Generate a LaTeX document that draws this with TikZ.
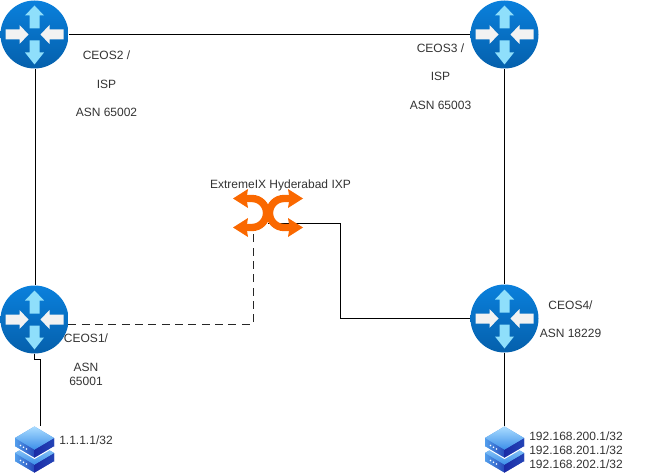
\documentclass[tikz,border=0pt]{standalone}
\usepackage{fontspec}
\setmainfont{Liberation Sans}
\usetikzlibrary{backgrounds}
\definecolor{rtrtop}{HTML}{0A80DC}
\definecolor{rtrbot}{HTML}{0560AC}
\definecolor{rtrsky}{HTML}{8FDFFB}
\definecolor{rtrpale}{HTML}{F2F2F2}
\definecolor{ixporange}{HTML}{FA6800}
\definecolor{lbl}{HTML}{333333}
\definecolor{srvlight}{HTML}{A9DCFF}
\definecolor{srvmid}{HTML}{3D8FE8}
\definecolor{srvleft}{HTML}{2A7FE0}
\definecolor{srvnavy}{HTML}{1B2BA6}
\tikzset{
  % nodes
  rtr/.style={circle,draw=none,top color=rtrtop,bottom color=rtrbot,inner sep=0pt,
              minimum size=51pt},
  ixp/.style={rectangle,inner sep=0pt,minimum width=52.5pt,minimum height=34.5pt},
  srv/.style={rectangle,inner sep=0pt,minimum width=29.25pt,minimum height=35.25pt},
  lb/.style={inner sep=0pt,align=center,text=lbl,font=\fontsize{9}{10.7}\selectfont},
  % lines
  lnk/.style={draw=black,line width=0.75pt},
  lnkd/.style={draw=black!85,line width=0.75pt,dash pattern=on 6pt off 4pt},
  rtrarrows/.pic={
    \fill[rtrsky] (0,-29) -- (9.5,-19) -- (5,-19) -- (5,-6) -- (-5,-6) -- (-5,-19) -- (-9.5,-19) -- cycle;
    \fill[rtrsky] (0,30) -- (9.5,18) -- (5,18) -- (5,6) -- (-5,6) -- (-5,18) -- (-9.5,18) -- cycle;
    \fill[rtrpale] (-6,0) -- (-15,-9.5) -- (-15,-5) -- (-29,-5) -- (-29,5) -- (-15,5) -- (-15,9.5) -- cycle;
    \fill[rtrpale] (6,0) -- (15,-9.5) -- (15,-5) -- (29,-5) -- (29,5) -- (15,5) -- (15,9.5) -- cycle;
  },
  ixparrows/.pic={
    \draw[ixporange,line width=5.5pt] (-22,-14.5) -- (-16,-14.5) arc (-90:90:14.5) -- (-22,14.5);
    \draw[ixporange,line width=5.5pt] (22,-14.5) -- (16,-14.5) arc (270:90:14.5) -- (22,14.5);
    \fill[ixporange] (-35,-14.5) -- (-20,-24) -- (-21.5,-14.5) -- (-20,-5) -- cycle;
    \fill[ixporange] (35,-14.5) -- (20,-24) -- (21.5,-14.5) -- (20,-5) -- cycle;
    \fill[ixporange] (-35,14.5) -- (-20,5) -- (-21.5,14.5) -- (-20,24) -- cycle;
    \fill[ixporange] (35,14.5) -- (20,5) -- (21.5,14.5) -- (20,24) -- cycle;
  },
  srvslab/.pic={
    \fill[srvleft,left color=srvmid!80!srvlight,right color=srvnavy!70!srvmid] (-19.5,0) -- (0,11.5) -- (0,20) -- (-19.5,8.5) -- cycle;
    \fill[srvnavy,left color=srvnavy,right color=srvnavy!75!srvmid] (19.5,0) -- (0,11.5) -- (0,20) -- (19.5,8.5) -- cycle;
    \fill[srvmid,top color=srvlight,bottom color=srvmid] (0,-11.5) -- (19.5,0) -- (0,11.5) -- (-19.5,0) -- cycle;
    \fill[white] (-14,7.5) circle (0.9) (-11,9.25) circle (0.9) (-8,11) circle (0.9);
    \draw[white,line width=0.75pt] (-19.5,9) -- (0,20.5) -- (19.5,9);
  },
  srvpair/.pic={
    \pic at (0,3.5) {srvslab};
    \pic at (0,-11.5) {srvslab};
  },
}

\begin{document}
\begin{tikzpicture}[x=0.75pt,y=-0.75pt]
  \useasboundingbox (0,0) rectangle (660,474);
  \node[rtr] (ceostwo) at (34.5,34.5) {};
  \node[rtr] (ceosthree) at (504.5,34.5) {};
  \node[rtr] (ceosone) at (34.5,319.5) {};
  \node[rtr] (ceosfour) at (504.5,318.5) {};
  \node[lb] (lbtwo) at (106.5,84) {CEOS2 /\\[10.7pt]ISP\\[10.7pt]ASN 65002};
  \node[lb] (lbthree) at (440.5,76.5) {CEOS3 /\\[10.7pt]ISP\\[10.7pt]ASN 65003};
  \node[lb] (lbone) at (86,360) {CEOS1/\\[10.7pt]ASN\\65001};
  \node[lb] (lbfour) at (570.5,319) {CEOS4/\\[10.7pt]ASN 18229};
  \node[lb] (lbixp) at (280.5,185) {ExtremeIX Hyderabad IXP};
  \node[lb] (lbsrvone) at (86,440) {1.1.1.1/32};
  \node[lb] (lbsrvfour) at (576,450) {192.168.200.1/32\\192.168.201.1/32\\192.168.202.1/32};
  \node[ixp] (ixpsw) at (268,213) {};
  \node[srv] (srvone) at (34.5,449.5) {};
  \node[srv] (srvfour) at (504.5,449.5) {};
  \coordinate (ixpdown) at (253,228);
  \coordinate (ixpright) at (268,223.5);
  \foreach \rtrname in {ceostwo,ceosthree,ceosone,ceosfour}
    \pic at (\rtrname) {rtrarrows};
  \pic at (ixpsw) {ixparrows};
  \pic at (srvone) {srvpair};
  \pic at (srvfour) {srvpair};
  \begin{scope}[on background layer]
  \draw[lnk] (ceostwo) -- (ceosthree);
  \draw[lnk] ([xshift=0.5pt]ceostwo.south) -- ([xshift=0.5pt]ceosone.north);
  \draw[lnk] (ceosthree) -- (ceosfour);
  \draw[lnkd] (ceosone.-8) -| (ixpdown);
  \draw[lnk] (ixpright) -- ++(72.5,0) |- (ceosfour.west);
  \draw[lnk] (ceosone.south) -- ++(0,6) -| (srvone.75);
  \draw[lnk] (ceosfour.south) -- (srvfour.north);
  \end{scope}
\end{tikzpicture}
\end{document}
